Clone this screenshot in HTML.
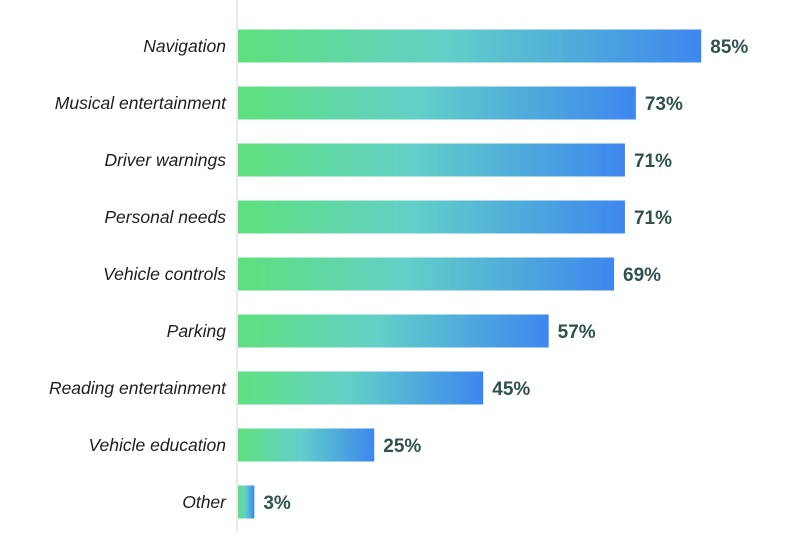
<!DOCTYPE html>
<html><head><meta charset="utf-8"><style>
html,body{margin:0;padding:0;background:#fff;}
svg{display:block;}
.cat{font-family:"Liberation Sans",sans-serif;font-style:italic;font-size:17.5px;fill:#1e1e1e;}
.val{font-family:"Liberation Sans",sans-serif;font-weight:bold;font-size:19px;fill:#2f524f;}
</style></head><body>
<svg id="chart" width="800" height="537" viewBox="0 0 800 537">
<defs><linearGradient id="g" x1="0" x2="1" y1="0" y2="0">
<stop offset="0" stop-color="#5fe07e"/><stop offset="0.45" stop-color="#62d0c8"/><stop offset="1" stop-color="#3d87ee"/>
</linearGradient></defs>
<line x1="237" y1="0" x2="237" y2="532" stroke="#e4e4e4" stroke-width="1.5"/>
</svg>
<script>
const categories=["Navigation","Musical entertainment","Driver warnings","Personal needs","Vehicle controls","Parking","Reading entertainment","Vehicle education","Other"];
const values=[85,73,71,71,69,57,45,25,3];
const valueLabels=["85%","73%","71%","71%","69%","57%","45%","25%","3%"];
const svg=document.getElementById('chart');
const NS='http://www.w3.org/2000/svg';
const x0=238,pxPer=5.45,top0=29.5,step=57,bh=33;
function xScale(v){return x0+v*pxPer;}
function yScale(i){return top0+i*step;}
categories.forEach((c,i)=>{
  const y=yScale(i);
  const r=document.createElementNS(NS,'rect');
  
  
  r.setAttribute('x',x0);r.setAttribute('y',y);
  r.setAttribute('width',xScale(values[i])-x0);r.setAttribute('height',bh);
  r.setAttribute('fill','url(#g)');
  svg.appendChild(r);
  const t=document.createElementNS(NS,'text');
  
  
  t.setAttribute('class','cat');t.setAttribute('x',226);t.setAttribute('y',y+bh/2+6);
  t.setAttribute('text-anchor','end');t.textContent=c;svg.appendChild(t);
  const v=document.createElementNS(NS,'text');
  
  
  v.setAttribute('class','val');v.setAttribute('x',xScale(values[i])+9);v.setAttribute('y',y+bh/2+7);
  v.textContent=valueLabels[i];svg.appendChild(v);
});
</script>
</body></html>
